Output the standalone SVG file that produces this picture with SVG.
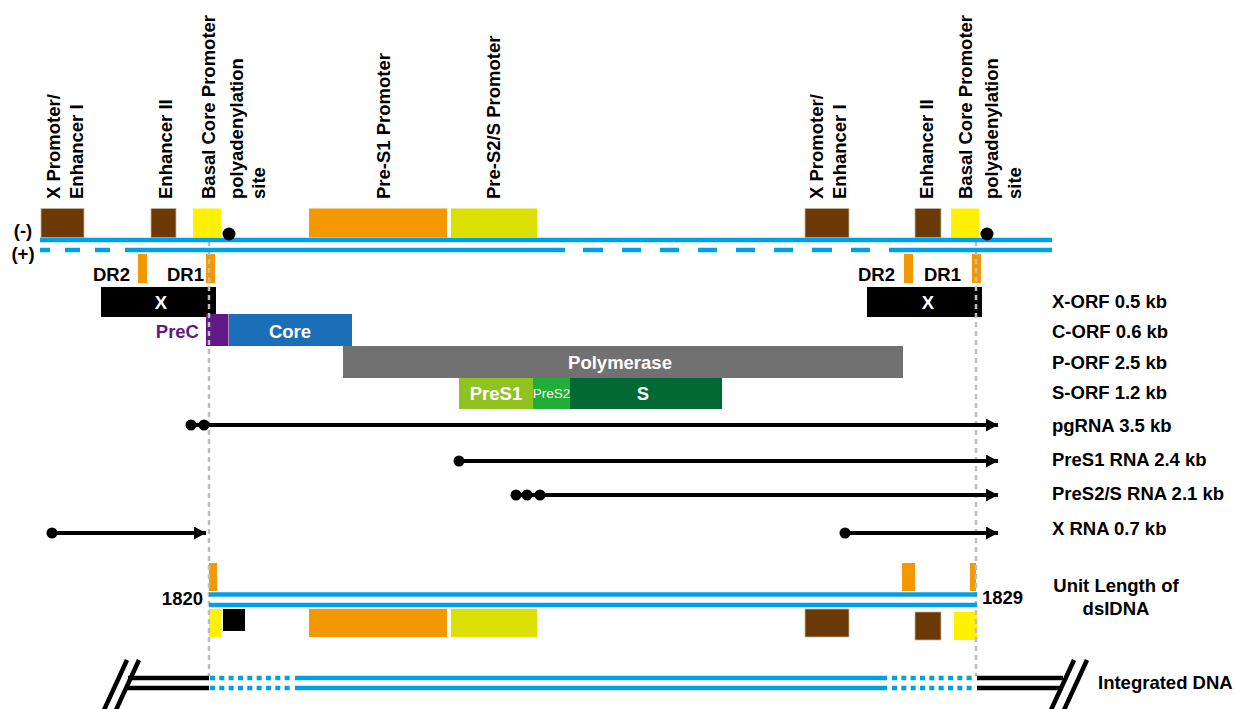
<svg xmlns="http://www.w3.org/2000/svg" width="1235" height="709" viewBox="0 0 1235 709">
<style>
text{font-family:"Liberation Sans",Arial,sans-serif;font-weight:bold;font-size:18.5px;fill:#000}
.w{fill:#fff}
.blue{stroke:#00A0E9;stroke-width:4.5;fill:none}
.blk{stroke:#000;stroke-width:4.5;fill:none}
.dot{stroke:#BDBDBD;stroke-width:2.5;stroke-dasharray:5 4;fill:none}
.brown{fill:#6A3906;stroke:#C9B29B;stroke-width:0.8}
.yel{fill:#FFF100}
.org{fill:#F39800}
.yg{fill:#DCE000}
.tx{stroke:#000;stroke-width:4;fill:none}
</style>
<defs>
<marker id="ah" markerWidth="12" markerHeight="13" refX="12" refY="6.5" orient="auto" markerUnits="userSpaceOnUse">
<path d="M0,0 L12,6.5 L0,13 Z" fill="#000"/>
</marker>
</defs>

<g id="top-labels">
<text transform="translate(60,199) rotate(-90)">X Promoter/</text>
<text transform="translate(83,199) rotate(-90)">Enhancer I</text>
<text transform="translate(172,199) rotate(-90)">Enhancer II</text>
<text transform="translate(215,199) rotate(-90)">Basal Core Promoter</text>
<text transform="translate(243,199) rotate(-90)">polyadenylation</text>
<text transform="translate(265,199) rotate(-90)">site</text>
<text transform="translate(390,199) rotate(-90)">Pre-S1 Promoter</text>
<text transform="translate(500,199) rotate(-90)">Pre-S2/S Promoter</text>
<text transform="translate(823,199) rotate(-90)">X Promoter/</text>
<text transform="translate(846,199) rotate(-90)">Enhancer I</text>
<text transform="translate(933,199) rotate(-90)">Enhancer II</text>
<text transform="translate(972,199) rotate(-90)">Basal Core Promoter</text>
<text transform="translate(998,199) rotate(-90)">polyadenylation</text>
<text transform="translate(1021,199) rotate(-90)">site</text>
</g>

<g id="top-elements">
<rect class="brown" x="41" y="208.5" width="43" height="29"/>
<rect class="brown" x="151" y="208.5" width="25" height="29"/>
<rect class="yel" x="193" y="208.5" width="28" height="29"/>
<rect class="org" x="309" y="208.5" width="138" height="29"/>
<rect class="yg" x="451" y="208.5" width="86" height="29"/>
<rect class="brown" x="805" y="208.5" width="44" height="29"/>
<rect class="brown" x="915" y="208.5" width="26" height="29"/>
<rect class="yel" x="951" y="208.5" width="28" height="29"/>
</g>

<g id="dr">
<rect class="org" x="138" y="254" width="9" height="29"/>
<rect class="org" x="206" y="254" width="9" height="29"/>
<rect class="org" x="904" y="254" width="9" height="29"/>
<rect class="org" x="972" y="254" width="9" height="29"/>
<text x="93" y="281">DR2</text>
<text x="167" y="281">DR1</text>
<text x="858" y="281">DR2</text>
<text x="924" y="281">DR1</text>
</g>

<g id="orfs">
<rect x="101" y="287" width="115" height="30" fill="#000"/>
<text class="w" x="161" y="309" text-anchor="middle">X</text>
<rect x="867" y="287" width="115" height="30" fill="#000"/>
<text class="w" x="928" y="309" text-anchor="middle">X</text>
<rect x="206" y="314" width="22.5" height="32" fill="#601986"/>
<rect x="229" y="314" width="123" height="32" fill="#1D6EB8"/>
<text x="199" y="338" text-anchor="end" style="fill:#601986">PreC</text>
<text class="w" x="290" y="338" text-anchor="middle">Core</text>
<rect x="343" y="346" width="560" height="32" fill="#727171"/>
<text class="w" x="620" y="369" text-anchor="middle">Polymerase</text>
<rect x="459" y="378" width="74" height="31" fill="#8FC31F"/>
<rect x="533" y="378" width="37" height="31" fill="#22AC38"/>
<rect x="570" y="378" width="152" height="31" fill="#006934"/>
<text class="w" x="496" y="400" text-anchor="middle">PreS1</text>
<text class="w" x="551.5" y="398" text-anchor="middle" style="font-weight:normal;font-size:13.5px">PreS2</text>
<text class="w" x="643" y="400" text-anchor="middle">S</text>
</g>

<g id="bottom-elements">
<rect class="org" x="209" y="563" width="8" height="28"/>
<rect class="org" x="902" y="563" width="13" height="28"/>
<rect class="org" x="970" y="563" width="6" height="28"/>
<rect class="yel" x="209" y="609" width="12" height="28"/>
<rect x="223" y="609" width="22" height="22" fill="#000"/>
<rect class="org" x="309" y="609" width="138" height="28"/>
<rect class="yg" x="451" y="609" width="86" height="28"/>
<rect class="brown" x="805" y="609" width="44" height="28"/>
<rect class="brown" x="915" y="612" width="26" height="28"/>
<rect class="yel" x="954" y="612" width="23" height="28"/>
</g>

<g id="guides">
<line class="dot" x1="209" y1="241" x2="209" y2="676"/>
<line class="dot" x1="976" y1="241" x2="976" y2="676"/>
</g>

<g id="strands">
<line class="blue" x1="40" y1="240" x2="1052" y2="240"/>
<path class="blue" d="M40,250H50M65,250H80M95,250H110M125,250H565M583,250H603M622,250H641M660,250H679M698,250H717M736,250H755M774,250H793M812,250H832M851,250H870M889,250H1052"/>
<text x="23" y="237" text-anchor="middle">(-)</text>
<text x="23" y="260" text-anchor="middle">(+)</text>
<circle cx="229" cy="234" r="6.5" fill="#000"/>
<circle cx="987" cy="234" r="6.5" fill="#000"/>
</g>

<g id="dsDNA">
<line class="blue" x1="209" y1="594.5" x2="977" y2="594.5"/>
<line class="blue" x1="209" y1="605" x2="977" y2="605"/>
<text x="203" y="605" text-anchor="end">1820</text>
<text x="982" y="604">1829</text>
</g>

<g id="integrated">
<line class="blk" x1="128" y1="678" x2="209" y2="678"/>
<line class="blk" x1="126" y1="688" x2="209" y2="688"/>
<path class="blue" style="stroke-dasharray:5 4.33" d="M210,678H291M210,688H291M892,678H974M892,688H974"/>
<line class="blue" x1="295" y1="678" x2="887" y2="678"/>
<line class="blue" x1="295" y1="688" x2="887" y2="688"/>
<line class="blk" x1="977" y1="678" x2="1063" y2="678"/>
<line class="blk" x1="977" y1="688" x2="1061" y2="688"/>
<line class="blk" x1="127" y1="660" x2="104" y2="710"/>
<line class="blk" x1="139" y1="660" x2="116" y2="710"/>
<line class="blk" x1="1074" y1="660" x2="1051" y2="710"/>
<line class="blk" x1="1087" y1="660" x2="1064" y2="710"/>
</g>

<g id="connectors">
<line class="tx" x1="191" y1="425" x2="998" y2="425" marker-end="url(#ah)"/>
<circle cx="191" cy="425" r="5.5"/>
<circle cx="204" cy="425" r="5.5"/>
<line class="tx" x1="459" y1="461" x2="998" y2="461" marker-end="url(#ah)"/>
<circle cx="459" cy="461" r="5.5"/>
<line class="tx" x1="516" y1="495" x2="998" y2="495" marker-end="url(#ah)"/>
<circle cx="516" cy="495" r="5.5"/>
<circle cx="527" cy="495" r="5.5"/>
<circle cx="540" cy="495" r="5.5"/>
<line class="tx" x1="52" y1="533" x2="206" y2="533" marker-end="url(#ah)"/>
<circle cx="52" cy="533" r="5.5"/>
<line class="tx" x1="845" y1="533" x2="998" y2="533" marker-end="url(#ah)"/>
<circle cx="845" cy="533" r="5.5"/>
</g>

<g id="right-labels">
<text x="1052" y="308">X-ORF 0.5 kb</text>
<text x="1052" y="338">C-ORF 0.6 kb</text>
<text x="1052" y="369">P-ORF 2.5 kb</text>
<text x="1052" y="399">S-ORF 1.2 kb</text>
<text x="1052" y="432">pgRNA 3.5 kb</text>
<text x="1052" y="466">PreS1 RNA 2.4 kb</text>
<text x="1052" y="500">PreS2/S RNA 2.1 kb</text>
<text x="1052" y="535">X RNA 0.7 kb</text>
<text x="1116" y="592" text-anchor="middle">Unit Length of</text>
<text x="1116" y="615" text-anchor="middle">dsIDNA</text>
<text x="1098" y="689">Integrated DNA</text>
</g>
</svg>
